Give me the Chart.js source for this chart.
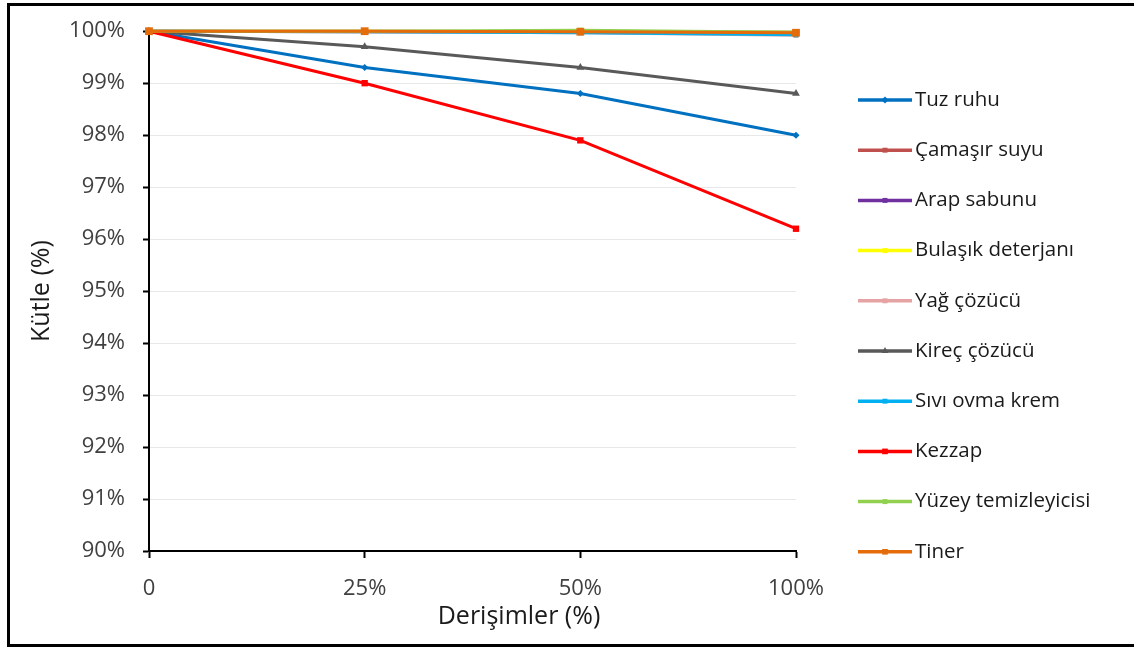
<!DOCTYPE html>
<html>
<head>
<meta charset="utf-8">
<script src="https://cdn.jsdelivr.net/npm/chart.js@4"></script>
<style>
  html, body { margin: 0; padding: 0; background: #fff; overflow: hidden; }
  #wrap { position: relative; width: 1134px; height: 647px; overflow: hidden; }
  #frame { position: absolute; left: 7px; top: 3px; width: 1200px; height: 644px;
           box-sizing: border-box; border: 3px solid #000; border-right: none; }
  canvas { position: absolute; left: 0; top: 0; }
</style>
</head>
<body>
<div id="wrap">
  <div id="frame"></div>
  <canvas id="c" width="1134" height="647"></canvas>
</div>
<script>
// Concentration levels (x categories)
const categories = ['0', '25%', '50%', '100%'];

// Remaining mass (%) for each cleaning agent
const tuzRuhu            = [100, 99.3, 98.8, 98.0];
const camasirSuyu        = [100, 99.99, 99.98, 99.97];
const arapSabunu         = [100, 100, 99.99, 99.98];
const bulasikDeterjani   = [100, 100, 99.99, 99.98];
const yagCozucu          = [100, 99.99, 99.97, 99.92];
const kirecCozucu        = [100, 99.7, 99.3, 98.8];
const siviOvmaKrem       = [100, 99.99, 99.97, 99.93];
const kezzap             = [100, 99.0, 97.9, 96.2];
const yuzeyTemizleyicisi = [100, 100, 100.02, 99.98];
const tiner              = [100, 100, 99.99, 99.97];

const seriesNames = ['Tuz ruhu', 'Çamaşır suyu', 'Arap sabunu', 'Bulaşık deterjanı', 'Yağ çözücü',
                     'Kireç çözücü', 'Sıvı ovma krem', 'Kezzap', 'Yüzey temizleyicisi', 'Tiner'];
const seriesValues = [tuzRuhu, camasirSuyu, arapSabunu, bulasikDeterjani, yagCozucu,
                      kirecCozucu, siviOvmaKrem, kezzap, yuzeyTemizleyicisi, tiner];
const seriesColors = ['#0070C0', '#C0504D', '#7030A0', '#FFFF00', '#E6A3A3',
                      '#595959', '#00B0F0', '#FF0000', '#92D050', '#E46C0A'];
const seriesMarkers = ['rectRot', 'rect', 'rect', 'rect', 'rect',
                       'triangle', 'rect', 'rect', 'rect', 'rect'];
const markerSizes = [3.5, 3.5, 3.5, 3.5, 3.5, 4.5, 3.5, 4.5, 3.5, 5.5];

// Y axis range and tick step
const yMin = 90, yMax = 100, yStep = 1;

const xTitle = 'Derişimler (%)';
const yTitle = 'Kütle (%)';

const FONT = '"Open Sans", "DejaVu Sans", sans-serif';

const datasets = seriesNames.map((name, i) => ({
  label: name,
  data: seriesValues[i],
  borderColor: seriesColors[i],
  backgroundColor: seriesColors[i],
  borderWidth: 3,
  pointStyle: seriesMarkers[i],
  pointRadius: markerSizes[i],
  pointHoverRadius: markerSizes[i],
  pointBorderWidth: 0,
  tension: 0,
  clip: false,
  order: seriesNames.length - i   // later series sit on top
}));

// Legend drawn as a vertical list at the right side of the plot
const sideLegend = {
  id: 'sideLegend',
  afterDraw(chart) {
    const ctx = chart.ctx;
    ctx.save();
    ctx.font = '20.5px ' + FONT;
    ctx.textBaseline = 'middle';
    ctx.textAlign = 'left';
    chart.data.datasets.forEach((ds, i) => {
      const y = 100 + i * 50.2;
      ctx.strokeStyle = ds.borderColor;
      ctx.lineWidth = 3.5;
      ctx.beginPath();
      ctx.moveTo(858, y);
      ctx.lineTo(912, y);
      ctx.stroke();
      ctx.fillStyle = ds.backgroundColor;
      Chart.helpers.drawPoint(ctx, {
        pointStyle: ds.pointStyle, radius: Math.min(ds.pointRadius, 4),
        rotation: 0, borderWidth: 0
      }, 885, y);
      ctx.fillStyle = '#1a1a1a';
      ctx.fillText(ds.label, 915, y);
    });
    ctx.restore();
  }
};

// X axis title placed under the tick labels
const xAxisTitle = {
  id: 'xAxisTitle',
  afterDraw(chart) {
    const ctx = chart.ctx;
    ctx.save();
    ctx.font = '25px ' + FONT;
    ctx.fillStyle = '#1a1a1a';
    ctx.textAlign = 'center';
    ctx.textBaseline = 'middle';
    ctx.fillText(xTitle, 519, 617);
    ctx.restore();
  }
};

new Chart(document.getElementById('c'), {
  type: 'line',
  data: { labels: categories, datasets },
  options: {
    responsive: false,
    animation: false,
    devicePixelRatio: 1,
    layout: { padding: { left: 0, top: 31, right: 338, bottom: 0 } },
    plugins: {
      legend: { display: false },
      tooltip: { enabled: false }
    },
    scales: {
      x: {
        type: 'category',
        offset: false,
        grid: { display: true, drawOnChartArea: false, drawTicks: true,
                tickLength: 7, tickWidth: 2, tickColor: '#000' },
        border: { display: true, color: '#000', width: 2 },
        ticks: { color: '#404040', font: { family: FONT, size: 22 }, padding: 18,
                 maxRotation: 0, autoSkip: false },
        afterFit(scale) { scale.height = 96; }
      },
      y: {
        min: yMin, max: yMax,
        grid: { color: '#e8e8e8', lineWidth: 1, drawTicks: true,
                tickLength: 6, tickWidth: 2, tickColor: '#000' },
        border: { display: true, color: '#000', width: 2 },
        ticks: { stepSize: yStep, color: '#404040', font: { family: FONT, size: 22 },
                 padding: 18, callback: v => v + '%' },
        title: { display: true, text: yTitle, color: '#1a1a1a',
                 font: { family: FONT, size: 25 }, padding: { top: 27, bottom: 0 } },
        afterFit(scale) { scale.width = 149; }
      }
    }
  },
  plugins: [sideLegend, xAxisTitle]
});
</script>
</body>
</html>
